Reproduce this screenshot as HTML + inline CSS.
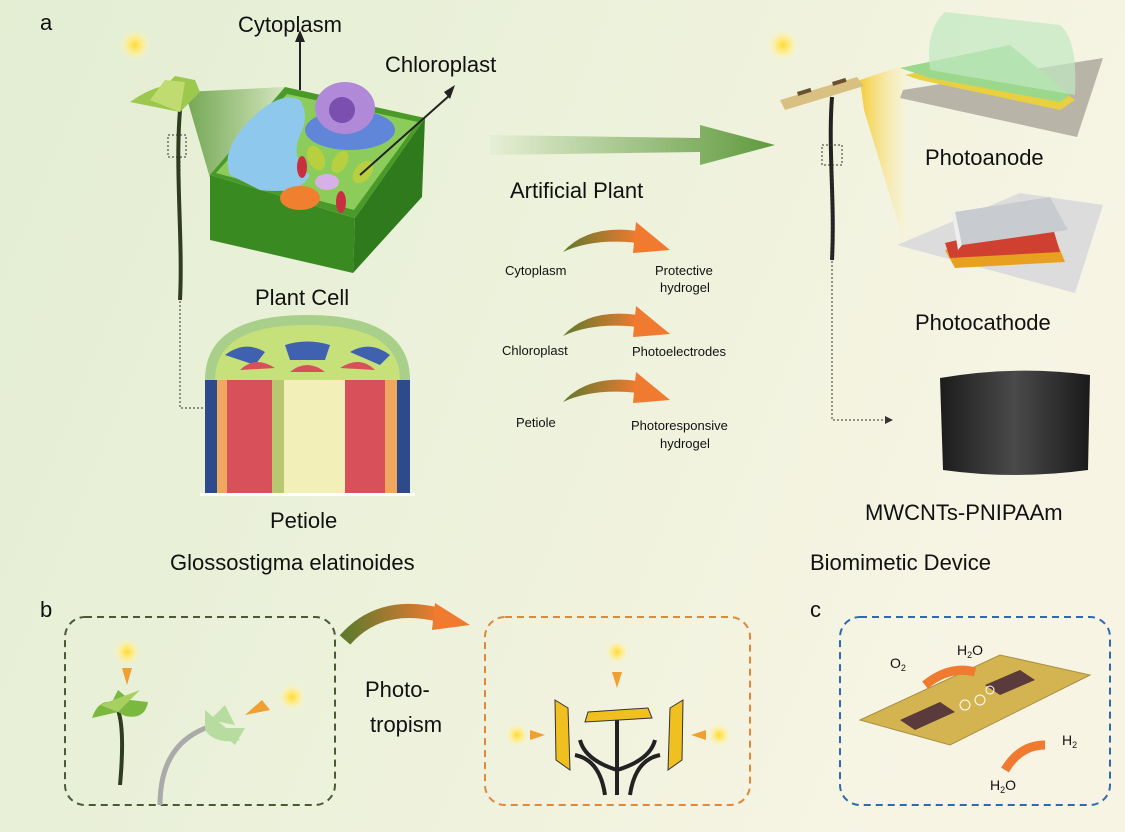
<!DOCTYPE html>
<html><head><meta charset="utf-8"><style>
html,body{margin:0;padding:0;width:1125px;height:832px;overflow:hidden}
svg{display:block}
text{font-family:"Liberation Sans",sans-serif;fill:#111}
</style></head><body>
<svg width="1125" height="832" viewBox="0 0 1125 832">
<defs>
<linearGradient id="bg" x1="0" y1="0" x2="1" y2="0.3"><stop offset="0" stop-color="#e3eed3"/><stop offset="0.6" stop-color="#eef2dc"/><stop offset="1" stop-color="#f7f4e4"/></linearGradient>
<linearGradient id="ga" x1="0" x2="1"><stop offset="0" stop-color="#e6efd6"/><stop offset="1" stop-color="#5f9a3c"/></linearGradient>
<linearGradient id="cone" x1="0" x2="1"><stop offset="0" stop-color="#5f9a3c"/><stop offset="1" stop-color="#cfe3b8"/></linearGradient>
<linearGradient id="ca" x1="0" x2="1"><stop offset="0" stop-color="#5f7a2e"/><stop offset="1" stop-color="#f07a30"/></linearGradient>
<radialGradient id="sun"><stop offset="0" stop-color="#ffd93a"/><stop offset="0.35" stop-color="#ffe97a"/><stop offset="1" stop-color="#fff6c0" stop-opacity="0"/></radialGradient>
<linearGradient id="cyl" x1="0" x2="1"><stop offset="0" stop-color="#1c1c1c"/><stop offset="0.5" stop-color="#4a4a4a"/><stop offset="1" stop-color="#1a1a1a"/></linearGradient>
<linearGradient id="beam" x1="0" x2="1"><stop offset="0" stop-color="#f5c000"/><stop offset="1" stop-color="#fff3c0" stop-opacity="0.4"/></linearGradient>
<g id="carr"><path d="M0,30 Q25,2 75,9 L75,21 Q30,16 0,30Z" fill="url(#ca)"/><polygon points="73,0 107,28 70,31" fill="#f07a30"/></g>
</defs>
<rect width="1125" height="832" fill="url(#bg)"/>
<text x="40" y="30" font-size="22">a</text>
<text x="40" y="617" font-size="22">b</text>
<text x="810" y="617" font-size="22">c</text>
<circle cx="135" cy="45" r="16" fill="url(#sun)"/>
<circle cx="783" cy="45" r="16" fill="url(#sun)"/>
<!-- plant left -->
<polygon points="185,92 285,87 210,178" fill="url(#cone)" opacity="0.85"/>
<path d="M180,110 C175,170 183,240 180,300" stroke="#2f3d1e" stroke-width="4" fill="none"/>
<path d="M180,112 L130,102 Q150,88 165,86 L175,76 L195,80 L200,92 Z" fill="#9cc84e"/>
<path d="M180,112 L150,100 L165,80 L185,82Z" fill="#c0dc70"/>
<rect x="168" y="135" width="18" height="22" fill="none" stroke="#333" stroke-dasharray="2,2"/>
<path d="M180,157 V408 H210" stroke="#333" stroke-dasharray="2,2" fill="none"/>
<polygon points="210,404 217,408 210,412" fill="#333"/>
<!-- plant cell -->
<polygon points="210,175 355,218 353,273 210,240" fill="#3a8a22"/>
<polygon points="355,218 425,118 422,197 353,273" fill="#2f7a1c"/>
<polygon points="210,175 285,87 425,118 355,218" fill="#4a9a2a"/>
<polygon points="216,173 287,94 418,122 354,210" fill="#8ccc5a"/>
<path d="M230,175 Q220,150 250,120 Q280,90 300,100 Q310,115 300,135 Q290,160 310,175 Q300,195 260,190 Z" fill="#8ec8ec"/>
<ellipse cx="350" cy="130" rx="45" ry="20" fill="#5f86d8"/>
<ellipse cx="345" cy="108" rx="30" ry="26" fill="#b08ad8"/>
<ellipse cx="342" cy="110" rx="13" ry="13" fill="#7a4fb0"/>
<ellipse cx="316" cy="158" rx="8" ry="13" fill="#b8d040" transform="rotate(-25 316 158)"/>
<ellipse cx="340" cy="162" rx="7" ry="12" fill="#b8d040" transform="rotate(30 340 162)"/>
<ellipse cx="363" cy="172" rx="8" ry="13" fill="#b8d040" transform="rotate(40 363 172)"/>
<ellipse cx="302" cy="167" rx="5" ry="11" fill="#c83040"/>
<ellipse cx="341" cy="202" rx="5" ry="11" fill="#c83040"/>
<ellipse cx="327" cy="182" rx="12" ry="8" fill="#d8b0e8"/>
<ellipse cx="300" cy="198" rx="20" ry="12" fill="#f08030"/>
<line x1="300" y1="90" x2="300" y2="40" stroke="#222" stroke-width="2"/><polygon points="295,42 300,30 305,42" fill="#222"/>
<line x1="360" y1="175" x2="450" y2="95" stroke="#222" stroke-width="2"/><polygon points="444,92 455,85 450,99" fill="#222"/>
<text x="238" y="32" font-size="22">Cytoplasm</text>
<text x="385" y="72" font-size="22">Chloroplast</text>
<text x="255" y="305" font-size="22">Plant Cell</text>
<!-- petiole -->
<path d="M205,495 V380 Q205,315 307,315 Q410,315 410,380 V495 Z" fill="#a8d08a"/>
<path d="M215,380 Q215,325 307,325 Q400,325 400,380Z" fill="#c6e07a"/>
<rect x="205" y="380" width="205" height="115" fill="#f2f0b8"/>
<rect x="205" y="380" width="12" height="115" fill="#2d4a8a"/><rect x="217" y="380" width="10" height="115" fill="#f0a860"/>
<rect x="227" y="380" width="45" height="115" fill="#d8505a"/><rect x="272" y="380" width="12" height="115" fill="#b8c870"/>
<rect x="345" y="380" width="40" height="115" fill="#d8505a"/><rect x="385" y="380" width="12" height="115" fill="#f0a860"/>
<rect x="397" y="380" width="13" height="115" fill="#2d4a8a"/>
<path d="M225,355 Q245,340 265,352 L255,365 Z" fill="#4060b0"/><path d="M350,352 Q370,340 390,355 L380,365 Z" fill="#4060b0"/>
<path d="M285,345 Q307,338 330,345 L325,360 L290,360Z" fill="#4060b0"/>
<path d="M240,370 Q255,355 275,368Z M290,372 Q307,358 325,372Z M340,368 Q360,355 375,370Z" fill="#d8505a"/>
<rect x="200" y="493" width="215" height="3" fill="#fff"/>
<text x="270" y="528" font-size="22">Petiole</text>
<text x="170" y="570" font-size="22">Glossostigma elatinoides</text>
<!-- big arrow -->
<polygon points="490,135 700,138 700,125 775,145 700,165 700,152 490,155" fill="url(#ga)"/>
<text x="510" y="198" font-size="22">Artificial Plant</text>
<use href="#carr" x="563" y="222"/><use href="#carr" x="563" y="306"/><use href="#carr" x="563" y="372"/>
<g font-size="13"><text x="505" y="275">Cytoplasm</text><text x="655" y="275">Protective</text><text x="660" y="292">hydrogel</text>
<text x="502" y="355">Chloroplast</text><text x="632" y="356">Photoelectrodes</text>
<text x="516" y="427">Petiole</text><text x="631" y="430">Photoresponsive</text><text x="660" y="448">hydrogel</text></g>
<!-- device -->
<polygon points="860,80 905,65 905,245 864,110" fill="url(#beam)" opacity="0.75"/>
<polygon points="780,100 857,77 864,86 785,110" fill="#d8c080"/>
<rect x="797" y="92" width="14" height="4" fill="#6a5030" transform="rotate(-17 797 92)"/>
<rect x="832" y="82" width="14" height="4" fill="#6a5030" transform="rotate(-17 832 82)"/>
<path d="M832,97 C828,150 835,200 832,260" stroke="#222" stroke-width="4" fill="none"/>
<rect x="822" y="145" width="20" height="20" fill="none" stroke="#333" stroke-dasharray="2,2"/>
<path d="M832,165 V420 H885" stroke="#333" stroke-dasharray="2,2" fill="none"/><polygon points="885,416 893,420 885,424" fill="#333"/>
<polygon points="903,90 1103,58 1077,137 900,98" fill="#b8b4a8"/>
<polygon points="905,75 1010,52 1075,100 1060,110 920,80" fill="#e8d040"/>
<polygon points="900,68 1010,45 1070,95 1060,102 930,78" fill="#9cd88c"/>
<path d="M930,70 Q925,30 945,12 L1060,25 Q1078,40 1075,95" fill="#c0e8c0" opacity="0.7"/>
<text x="925" y="165" font-size="22">Photoanode</text>
<polygon points="897,245 1020,193 1103,205 1075,293" fill="#dcdcdc"/>
<polygon points="945,250 1050,225 1065,262 955,268" fill="#e8a020"/>
<polygon points="945,243 1050,218 1060,252 950,258" fill="#d04030"/>
<polygon points="955,212 1050,197 1068,230 962,245" fill="#c8ccd0"/>
<polygon points="955,212 962,245 958,250 952,215" fill="#eee"/>
<text x="915" y="330" font-size="22">Photocathode</text>
<path d="M940,378 Q1015,365 1090,375 L1088,470 Q1015,480 943,470 Z" fill="url(#cyl)"/>
<text x="865" y="520" font-size="22">MWCNTs-PNIPAAm</text>
<text x="810" y="570" font-size="22">Biomimetic Device</text>
<!-- panel b -->
<rect x="65" y="617" width="270" height="188" rx="20" fill="none" stroke="#4a5a35" stroke-width="2" stroke-dasharray="7,5"/>
<circle cx="127" cy="652" r="14" fill="url(#sun)"/><circle cx="292" cy="697" r="14" fill="url(#sun)"/>
<polygon points="122,668 132,668 127,685" fill="#f0a030"/>
<polygon points="262,700 270,710 245,715" fill="#f0a030"/>
<path d="M120,785 Q125,730 118,710" stroke="#2f3d1e" stroke-width="4" fill="none"/>
<path d="M118,712 L92,718 Q98,700 112,702 L118,690 L130,700 L148,702 Q145,720 125,716Z" fill="#7ab840"/>
<path d="M100,705 L118,712 L140,690 Z" fill="#a8d060"/>
<path d="M160,805 Q160,740 215,725" stroke="#aaa" stroke-width="5" fill="none"/>
<path d="M205,710 L240,740 Q215,745 205,730Z M210,720 L225,705 L235,725Z M215,728 L245,728 L235,745Z" fill="#b8dca0"/>
<path d="M345,640 Q380,600 440,615" stroke="url(#ca)" stroke-width="14" fill="none"/>
<polygon points="435,603 470,625 432,630" fill="#f07a30"/>
<text x="365" y="697" font-size="22">Photo-</text><text x="370" y="732" font-size="22">tropism</text>
<rect x="485" y="617" width="265" height="188" rx="20" fill="none" stroke="#e0883a" stroke-width="2" stroke-dasharray="7,5"/>
<circle cx="617" cy="652" r="12" fill="url(#sun)"/><circle cx="517" cy="735" r="12" fill="url(#sun)"/><circle cx="719" cy="735" r="12" fill="url(#sun)"/>
<polygon points="612,672 622,672 617,688" fill="#f0a030"/>
<polygon points="530,730 545,735 530,740" fill="#f0a030"/><polygon points="706,730 691,735 706,740" fill="#f0a030"/>
<path d="M617,718 V795 M617,770 Q585,760 580,740 M617,770 Q650,760 655,740 M605,795 Q600,760 575,755 M630,795 Q635,760 660,755" stroke="#222" stroke-width="4" fill="none"/>
<polygon points="588,712 648,708 652,718 585,722" fill="#f0c020" stroke="#333"/>
<polygon points="555,700 568,708 570,770 556,760" fill="#f0c020" stroke="#333"/>
<polygon points="670,708 683,700 682,760 668,770" fill="#f0c020" stroke="#333"/>
<!-- panel c -->
<rect x="840" y="617" width="270" height="188" rx="20" fill="none" stroke="#2f6ab0" stroke-width="2" stroke-dasharray="7,5"/>
<polygon points="860,720 1000,655 1090,675 950,745" fill="#d4b450" stroke="#a89040"/>
<polygon points="900,720 940,702 955,712 915,730" fill="#5a3a3a"/>
<polygon points="985,685 1020,670 1035,680 1000,695" fill="#5a3a3a"/>
<circle cx="965" cy="705" r="5" fill="none" stroke="#fff"/><circle cx="980" cy="700" r="5" fill="none" stroke="#fff"/><circle cx="990" cy="690" r="4" fill="none" stroke="#fff"/>
<path d="M975,672 Q950,665 925,685" stroke="#f07a30" stroke-width="9" fill="none"/>
<path d="M1005,770 Q1020,745 1045,745" stroke="#f07a30" stroke-width="9" fill="none"/>
<text x="890" y="668" font-size="14">O<tspan font-size="9" dy="3">2</tspan></text>
<text x="957" y="655" font-size="14">H<tspan font-size="9" dy="3">2</tspan><tspan dy="-3">O</tspan></text>
<text x="1062" y="745" font-size="14">H<tspan font-size="9" dy="3">2</tspan></text>
<text x="990" y="790" font-size="14">H<tspan font-size="9" dy="3">2</tspan><tspan dy="-3">O</tspan></text>
</svg>
</body></html>
